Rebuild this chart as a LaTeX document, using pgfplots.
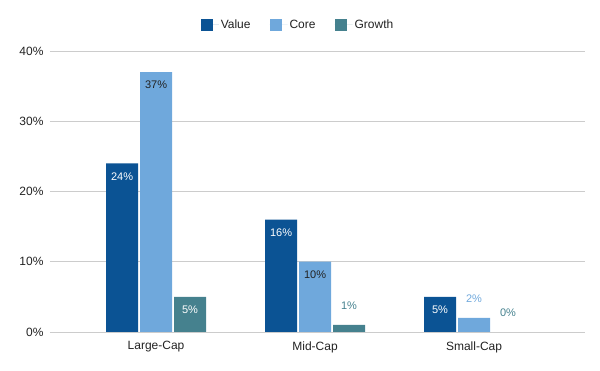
\documentclass[border=0pt]{standalone}
\usepackage{pgfplots}
\pgfplotsset{compat=1.18}
\usepackage{pgfplotstable}
\usepackage{fontspec}
\setmainfont{Liberation Sans}
\definecolor{cValue}{HTML}{0B5394}
\definecolor{cCore}{HTML}{6FA8DC}
\definecolor{cGrowth}{HTML}{45818E}
\definecolor{gridc}{HTML}{CCCCCC}
\definecolor{txt}{HTML}{222222}
\pgfplotstableread{
x value core growth
0 24 37 5
1 16 10 1
2 5 2 0
}\data
\pgfplotsset{
  sqleg/.style={legend image code/.code={\fill[##1,draw=none] (0pt,-6pt) rectangle (12pt,6pt); \path (0pt,0pt) -- (18pt,0pt);}},
  lab/.style={draw=none, forget plot, nodes near coords={\pgfmathprintnumber{\pgfplotspointmeta}\%},
     point meta=y, every node near coord/.append style={anchor=center, font=\fontsize{11}{13}\selectfont, #1}},
}
\begin{document}
\begin{tikzpicture}
\begin{axis}[
  at={(50pt,39pt)}, anchor=south west,
  width=535pt, height=281pt, scale only axis,
  xmin=-0.667, xmax=2.698, ymin=0, ymax=40,
  xtick={0,1,2}, xticklabels={Large-Cap,Mid-Cap,Small-Cap},
  ytick={0,10,20,30,40},
  yticklabel={\pgfmathprintnumber{\tick}\%},
  /pgf/number format/assume math mode=true,
  ymajorgrids, major grid style={gridc, line width=0.8pt},
  axis line style={draw=none},
  major tick length=0pt,
  tick label style={font=\fontsize{12}{14}\selectfont, text=txt},
  yticklabel style={xshift=-3pt},
  xticklabel style={yshift=-6pt},
  legend style={draw=none, at={(axis description cs:0.4636,1.0925)}, anchor=center,
     font=\fontsize{12}{14}\selectfont, text=txt,
     /tikz/every even column/.append style={column sep=17pt}},
  legend columns=3, legend cell align=left,
]
\addplot[ybar, bar width=32pt, bar shift=-34pt, fill=cValue, draw=none, sqleg] table[x=x,y=value]{\data};
\addlegendentry{Value}
\addplot[ybar, bar width=32pt, bar shift=0pt, fill=cCore, draw=none, sqleg] table[x=x,y=core]{\data};
\addlegendentry{Core}
\addplot[ybar, bar width=32pt, bar shift=34pt, fill=cGrowth, draw=none, sqleg, skip coords between index={2}{3}] table[x=x,y=growth]{\data};
\addlegendentry{Growth}
\addplot[txt, line width=0.8pt, forget plot] coordinates {(-0.667,0) (2.698,0)};
% labels
\addplot[lab={xshift=-34pt, yshift=-13pt, text=white}] table[x=x,y=value]{\data};
\addplot[lab={xshift=0pt, yshift=-13pt, text=txt}, skip coords between index={2}{3}] table[x=x,y=core]{\data};
\addplot[lab={xshift=0pt, yshift=19pt, text=cCore}, skip coords between index={0}{2}] table[x=x,y=core]{\data};
\addplot[lab={xshift=34pt, yshift=-13pt, text=white}, skip coords between index={1}{3}] table[x=x,y=growth]{\data};
\addplot[lab={xshift=34pt, yshift=19pt, text=cGrowth}, skip coords between index={0}{1}] table[x=x,y=growth]{\data};
\end{axis}
\pgfresetboundingbox
\path[use as bounding box] (0,0) rectangle (600pt,371pt);
\end{tikzpicture}
\end{document}
